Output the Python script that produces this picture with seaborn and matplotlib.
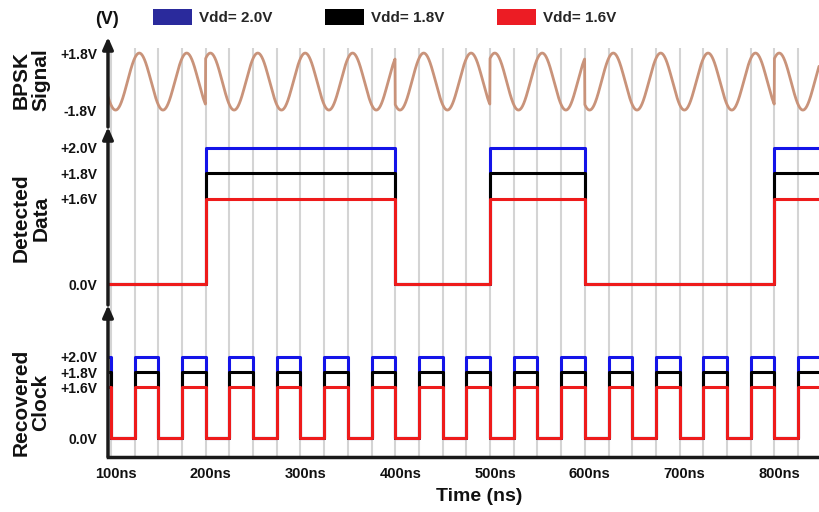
import numpy as np
import pandas as pd
import matplotlib
matplotlib.use("Agg")
import matplotlib.pyplot as plt
import matplotlib.transforms as mtransforms
import seaborn as sns
from matplotlib.patches import Patch, FancyArrowPatch
from matplotlib.ticker import MultipleLocator, FixedLocator, NullFormatter

# ---------------- data ----------------
vdd_levels = [2.0, 1.8, 1.6]
vdd_labels = ["Vdd= 2.0V", "Vdd= 1.8V", "Vdd= 1.6V"]
time_start_ns = 97
time_end_ns = 847

# detected data: level changes (starts low)
data_edges_ns = [200, 400, 500, 600, 800]
data_initial_state = 0

# recovered clock: level changes (starts high)
clock_edges_ns = [100, 125, 150, 175, 200, 225, 250, 275, 300, 325, 350, 375,
                  400, 425, 450, 475, 500, 525, 550, 575, 600, 625, 650, 675,
                  700, 725, 750, 775, 800, 825]
clock_initial_state = 1

# BPSK carrier
bpsk_amplitude_v = 1.8
carrier_period_ns = 50
carrier_peak_ref_ns = 130

x_ticks_ns = [100, 200, 300, 400, 500, 600, 700, 800]
x_tick_labels = ["100ns", "200ns", "300ns", "400ns", "500ns", "600ns", "700ns", "800ns"]
level_ticks_v = [0.0, 1.6, 1.8, 2.0]
level_tick_labels = ["0.0V", "+1.6V", "+1.8V", "+2.0V"]
bpsk_ticks_v = [-1.8, 1.8]
bpsk_tick_labels = ["-1.8V", "+1.8V"]

# ---------------- styling ----------------
sns.set_theme(style="white")
plt.rcParams["font.family"] = ["Liberation Sans", "DejaVu Sans"]
plt.rcParams["font.weight"] = "bold"

line_colors = {2.0: "#1414e8", 1.8: "#000000", 1.6: "#ee1b1b"}
legend_colors = ["#2a2a9c", "#000000", "#ec1c24"]
bpsk_color = "#c9937a"
grid_color = "#d4d4d4"
axis_color = "#1a1a1a"


def step_frame(edges, init):
    t = [time_start_ns] + list(edges) + [time_end_ns]
    s = []
    st = init
    s.append(st)
    for _ in edges:
        st = 1 - st
        s.append(st)
    s.append(st)
    rows = []
    for v in vdd_levels:
        for ti, si in zip(t, s):
            rows.append({"t": ti, "v": si * v, "vdd": v})
    return pd.DataFrame(rows)


data_df = step_frame(data_edges_ns, data_initial_state)
clock_df = step_frame(clock_edges_ns, clock_initial_state)

t_bpsk = np.linspace(time_start_ns, time_end_ns, 3001)
state = (np.searchsorted(np.array(data_edges_ns), t_bpsk, side="right") % 2) ^ data_initial_state
bpsk = bpsk_amplitude_v * np.cos(2 * np.pi * (t_bpsk - carrier_peak_ref_ns) / carrier_period_ns) * (1 - 2 * state)
bpsk_df = pd.DataFrame({"t": t_bpsk, "v": bpsk})

# piecewise voltage scale (upper levels spread out)
K = 2.4
BRK = 1.6


def fwd(v):
    v = np.asarray(v, dtype=float)
    return np.where(v <= BRK, v, BRK + (v - BRK) * K)


def inv(u):
    u = np.asarray(u, dtype=float)
    return np.where(u <= BRK, u, BRK + (u - BRK) / K)


W_PX, H_PX = 819, 512
fig = plt.figure(figsize=(W_PX / 100, H_PX / 100), dpi=100)

left = 108 / W_PX
width = 711 / W_PX


def axes_px(top, bottom):
    return fig.add_axes([left, 1 - bottom / H_PX, width, (bottom - top) / H_PX])


ax_b = axes_px(48, 127)
ax_d = axes_px(127, 305)
ax_c = axes_px(305, 457)

for ax in (ax_b, ax_d, ax_c):
    ax.set_facecolor("none")
    ax.set_xlim(time_start_ns, time_end_ns)
    ax.xaxis.set_major_locator(FixedLocator(x_ticks_ns))
    ax.xaxis.set_minor_locator(MultipleLocator(25))
    ax.grid(True, which="both", axis="x", color=grid_color, lw=1.5)
    ax.grid(False, axis="y")
    ax.set_axisbelow(True)
    for sp in ax.spines.values():
        sp.set_visible(False)
    ax.tick_params(axis="both", which="both", length=0)
    ax.tick_params(axis="y", labelsize=10, pad=8, colors="#111111")

# BPSK
sns.lineplot(data=bpsk_df, x="t", y="v", ax=ax_b, color=bpsk_color, lw=2.0,
             estimator=None, sort=False)
ax_b.set_ylim(-2.87, 2.12)
ax_b.set_yticks(bpsk_ticks_v)
ax_b.set_yticklabels(bpsk_tick_labels)
ax_b.set_xticklabels([])

# Detected data
sns.lineplot(data=data_df, x="t", y="v", hue="vdd", hue_order=vdd_levels,
             palette=line_colors, ax=ax_d, lw=2.2, estimator=None, sort=False,
             drawstyle="steps-post", legend=False)
ax_d.set_yscale("function", functions=(fwd, inv))
ax_d.set_ylim(inv(-0.395), inv(2.955))
ax_d.yaxis.set_major_locator(FixedLocator(level_ticks_v))
ax_d.set_yticklabels(level_tick_labels)
ax_d.yaxis.set_minor_formatter(NullFormatter())
ax_d.set_xticklabels([])

# Recovered clock
sns.lineplot(data=clock_df, x="t", y="v", hue="vdd", hue_order=vdd_levels,
             palette=line_colors, ax=ax_c, lw=2.2, estimator=None, sort=False,
             drawstyle="steps-post", legend=False)
ax_c.set_yscale("function", functions=(fwd, inv))
ax_c.set_ylim(inv(-0.6), inv(4.203))
ax_c.yaxis.set_major_locator(FixedLocator(level_ticks_v))
ax_c.set_yticklabels(level_tick_labels)
ax_c.yaxis.set_minor_formatter(NullFormatter())
ax_c.set_xticks(x_ticks_ns)
ax_c.set_xticklabels(x_tick_labels)
ax_c.tick_params(axis="x", labelsize=10.5, pad=7, colors="#111111")
shift = mtransforms.ScaledTranslation(5 / 100, 0, fig.dpi_scale_trans)
for lab in ax_c.get_xticklabels():
    lab.set_transform(lab.get_transform() + shift)
ax_c.spines["bottom"].set_visible(True)
ax_c.spines["bottom"].set_color(axis_color)
ax_c.spines["bottom"].set_linewidth(2.5)
ax_c.set_xlabel("Time (ns)", fontsize=14, fontweight="bold", color="#111111")
ax_c.xaxis.set_label_coords((479 - 108) / 711, -0.205)

ax_b.set_xlabel("")
ax_d.set_xlabel("")

# y labels
for ax, txt, yc in ((ax_b, "BPSK\nSignal", 0.595),
                    (ax_d, "Detected\nData", 0.489),
                    (ax_c, "Recovered\nClock", 0.362)):
    ax.set_ylabel(txt, fontsize=15, fontweight="bold", color="#111111",
                  va="center", linespacing=1.05)
    ax.yaxis.set_label_coords((31 - 108) / 711, yc)

# left axis line with arrows
xf = 108 / W_PX
segs = [(457, 305), (305, 127), (127, 37)]
for y0, y1 in segs:
    arr = FancyArrowPatch((xf, 1 - y0 / H_PX), (xf, 1 - y1 / H_PX),
                          transform=fig.transFigure,
                          arrowstyle="-|>,head_length=0.5,head_width=0.22",
                          mutation_scale=14, lw=2.5, color=axis_color,
                          shrinkA=0, shrinkB=0)
    fig.add_artist(arr)

# unit label
fig.text(107 / W_PX, 1 - 20 / H_PX, "(V)", fontsize=13, fontweight="bold",
         ha="center", va="center", color="#111111")

# legend
handles = [Patch(facecolor=c, edgecolor="none", label=l)
           for c, l in zip(legend_colors, vdd_labels)]
fig.legend(handles=handles, loc="center left",
           bbox_to_anchor=(153 / W_PX, 1 - 17 / H_PX), ncol=3, frameon=False,
           prop={"size": 11, "weight": "bold"}, handlelength=2.55,
           handleheight=1.2, handletextpad=0.45, columnspacing=3.45,
           borderpad=0, borderaxespad=0)

fig.savefig("out.png", dpi=100)
